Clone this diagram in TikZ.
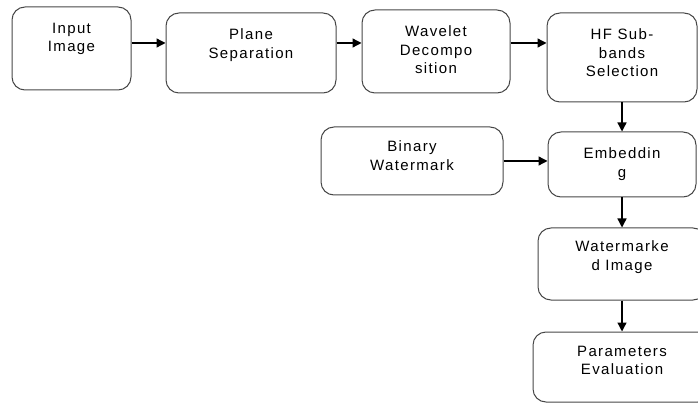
\documentclass[tikz,border=0pt]{standalone}
\usepackage{fontspec}
\setmainfont{Liberation Sans}[LetterSpace=9]
\usetikzlibrary{arrows.meta}
\definecolor{boxline}{RGB}{70, 70, 70}

\tikzset{
	blk/.style = {draw = boxline, line width = 1pt, rounded corners = 13pt, inner sep = 0pt},
	txt/.style = {anchor = north, align = center, inner sep = 0pt,
		font = \fontsize{15}{18.5}\selectfont},
	arr/.style = {-{Triangle[length = 9pt, width = 9pt]}, line width = 1.3pt}
}

\begin{document}
\begin{tikzpicture}[x = 1pt, y = -1pt]
			\useasboundingbox (0,0) rectangle (698,403);
			% boxes
			\node (in) at (71.5,48.5) [blk, minimum width = 119pt, minimum height = 83pt] {};
			\node (plane) at (251,53) [blk, minimum width = 170pt, minimum height = 80pt] {};
			\node (wave) at (436,51.5) [blk, minimum width = 148pt, minimum height = 83pt] {};
			\node (hf) at (622,57.5) [blk, minimum width = 150pt, minimum height = 89pt] {};
			\node (bw) at (412,161) [blk, minimum width = 182pt, minimum height = 68pt] {};
			\node (emb) at (622,164.5) [blk, minimum width = 148pt, minimum height = 65pt] {};
			\node (wm) at (622,264) [blk, minimum width = 168pt, minimum height = 72pt] {};
			\node (pe) at (622,367) [blk, minimum width = 178pt, minimum height = 70pt] {};
			% texts
			\node (inT) at ([yshift = -16pt]in.north) [txt] {Input\\Image};
			\node (planeT) at ([yshift = -16pt]plane.north) [txt] {Plane\\Separation};
			\node (waveT) at ([yshift = -16pt]wave.north) [txt] {Wavelet\\Decompo\\sition};
			\node (hfT) at ([yshift = -16pt]hf.north) [txt] {HF Sub-\\bands\\Selection};
			\node (bwT) at ([yshift = -14pt]bw.north) [txt] {Binary\\Watermark};
			\node (embT) at ([yshift = -16pt]emb.north) [txt] {Embeddin\\g};
			\node (wmT) at ([yshift = -13pt]wm.north) [txt] {Watermarke\\d Image};
			\node (peT) at ([yshift = -14pt]pe.north) [txt] {Parameters\\Evaluation};
			% arrows
			\coordinate (lvl) at (0,43);
			\draw[arr] (in.east |- lvl) -- (plane.west |- lvl);
			\draw[arr] (plane.east |- lvl) -- (wave.west |- lvl);
			\draw[arr] (wave.east |- lvl) -- (hf.west |- lvl);
			\draw[arr] (hf) -- (emb);
			\draw[arr] (bw.east) -- (emb.west |- bw.east);
			\draw[arr] (emb) -- (wm);
			\draw[arr] (wm) -- (pe);
\end{tikzpicture}
\end{document}
